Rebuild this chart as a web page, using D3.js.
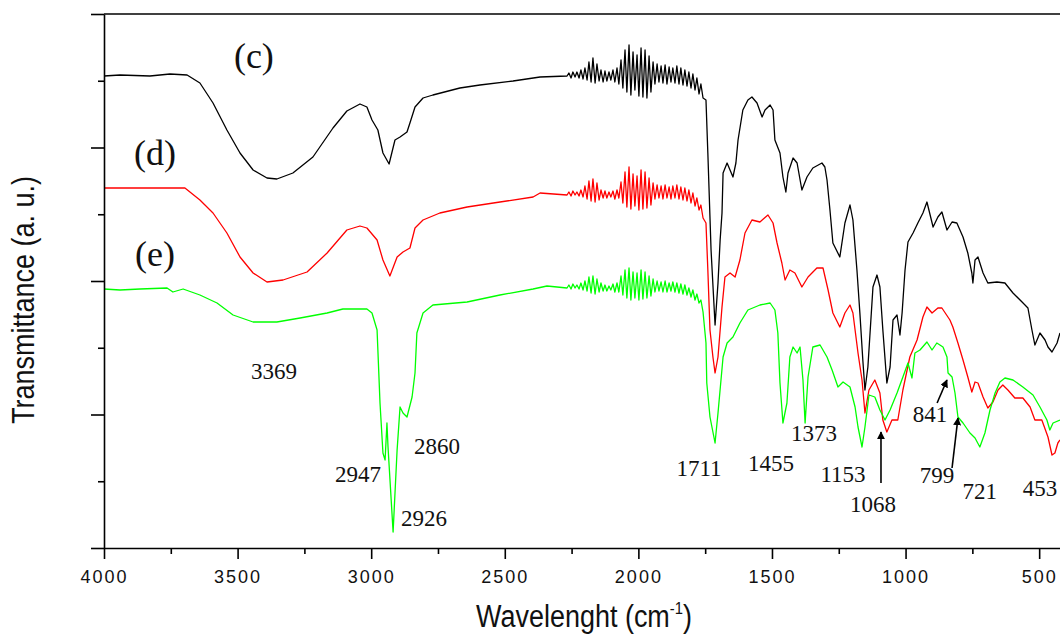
<!DOCTYPE html>
<html><head><meta charset="utf-8">
<script src="https://cdn.jsdelivr.net/npm/d3@7"></script>
<style>
html,body{margin:0;padding:0;background:#fff;}
svg{display:block;}
</style></head><body>
<svg id="chart" width="1060" height="635"></svg>
<script>
// ---------- DATA (wavenumber cm-1, transmittance a.u.) ----------
const xTicksMajor = [4000, 3500, 3000, 2500, 2000, 1500, 1000, 500];
const xTicksMinor = [3750, 3250, 2750, 2250, 1750, 1250, 750];
const yTicksMajor = [0, 133.5, 267, 400.5, 534];
const yTicksMinor = [66.75, 200.25, 333.75, 467.25];

// curve (c) black
const headC = [[4000,472],[3940,473],[3828,472],[3753,474],[3689,473],[3641,465],[3592,445],[3540,418],[3491,395],[3442,378],[3390,370],[3353,369],[3293,375],[3218,391],[3143,420],[3091,437],[3042,444],[3016,441],[2997,428],[2975,418],[2956,395],[2933,384],[2911,408],[2892,411],[2866,416],[2855,425],[2836,441],[2806,450],[2769,453],[2668,460],[2593,463],[2469,467],[2368,471]];
// noisy region (water vapour) shared wavenumbers
const noiseWave = [2267,2260,2252,2245,2237,2230,2222,2215,2207,2200,2192,2185,2177,2170,2162,2155,2147,2140,2132,2125,2118,2110,2103,2095,2088,2080,2073,2065,2058,2050,2043,2035,2028,2020,2013,2005,1998,1990,1983,1975,1968,1960,1953,1945,1938,1930,1923,1915,1908,1900,1893,1885,1878,1871,1863,1856,1848,1841,1833,1826,1818,1811,1803,1796,1788,1781,1773,1766,1758];
const noiseC = [472,475,470,476,471,476,470,478,469,480,468,486,466,490,465,484,467,478,466,477,467,476,468,478,466,480,464,488,460,498,456,503,453,496,458,493,452,500,451,498,450,492,456,486,464,484,466,482,465,483,464,481,466,480,465,482,464,480,463,478,462,476,460,474,458,470,454,464,450];
const tailC = [[1747,448],[1740,395],[1728,298],[1713,223],[1702,265],[1694,308],[1687,335],[1683,375],[1668,385],[1657,378],[1646,371],[1635,385],[1627,408],[1609,438],[1590,448],[1575,451],[1556,445],[1537,431],[1526,438],[1507,443],[1496,438],[1489,408],[1470,395],[1459,371],[1448,356],[1440,375],[1421,390],[1406,385],[1388,358],[1369,371],[1347,380],[1313,385],[1302,381],[1294,368],[1283,338],[1272,305],[1246,291],[1227,325],[1208,343],[1197,328],[1182,278],[1171,235],[1160,188],[1152,158],[1141,181],[1122,261],[1107,273],[1096,261],[1085,218],[1070,165],[1058,181],[1047,228],[1032,233],[1021,213],[1013,235],[1002,278],[991,306],[972,315],[954,325],[935,335],[920,346],[897,321],[879,331],[864,336],[845,318],[826,326],[808,325],[785,311],[767,295],[752,275],[748,265],[740,288],[729,291],[710,275],[692,265],[658,266],[628,265],[598,255],[564,246],[542,240],[527,218],[516,203],[497,215],[478,208],[467,201],[452,196],[433,205],[422,215]];

// curve (d) red
const headD = [[4000,360],[3828,360],[3697,360],[3641,348],[3592,335],[3540,315],[3491,291],[3442,275],[3390,266],[3330,268],[3240,276],[3165,295],[3091,318],[3042,322],[3016,320],[2978,308],[2956,288],[2930,272],[2903,291],[2881,296],[2855,300],[2836,320],[2806,328],[2743,335],[2641,341],[2518,346],[2394,351],[2368,355]];
const noiseD = [353,356,352,357,353,356,352,358,351,362,349,367,347,369,346,365,348,358,350,357,350,356,351,357,349,358,350,366,345,376,341,381,339,374,342,372,338,378,339,376,340,370,343,365,349,363,350,362,349,363,350,361,349,362,350,363,349,361,348,360,347,358,345,355,342,350,338,343,330];
const tailD = [[1747,325],[1740,278],[1732,218],[1721,191],[1713,175],[1702,191],[1687,241],[1676,271],[1657,275],[1638,271],[1620,288],[1601,315],[1575,328],[1545,326],[1515,333],[1496,325],[1481,305],[1463,285],[1451,268],[1433,278],[1414,275],[1388,261],[1365,271],[1332,280],[1309,280],[1290,258],[1272,235],[1246,221],[1227,235],[1208,243],[1197,235],[1178,195],[1163,168],[1152,135],[1137,158],[1115,168],[1096,155],[1085,128],[1070,116],[1051,128],[1029,128],[1010,158],[984,191],[957,208],[935,231],[920,241],[901,235],[879,240],[864,240],[834,228],[823,221],[804,205],[785,188],[767,171],[752,156],[740,166],[729,165],[710,151],[692,140],[673,146],[654,158],[636,163],[617,158],[591,150],[561,150],[534,141],[516,128],[490,128],[467,111],[452,93],[441,95],[430,105],[422,108]];

// curve (e) green
const headE = [[4000,259],[3940,258],[3865,259],[3764,260],[3742,256],[3704,259],[3641,253],[3577,245],[3517,233],[3442,226],[3353,226],[3266,230],[3165,235],[3106,239],[3016,239],[2997,235],[2978,218],[2967,145],[2956,95],[2948,88],[2941,125],[2937,101],[2918,16],[2903,98],[2892,141],[2881,135],[2866,131],[2847,151],[2836,175],[2829,215],[2806,235],[2769,243],[2641,246],[2518,253],[2394,259],[2342,262]];
const noiseE = [260,263,259,264,260,263,259,265,258,267,257,271,255,272,254,269,256,265,257,263,257,262,258,264,256,265,256,272,253,278,250,280,248,276,250,275,248,278,249,276,250,272,252,269,256,267,257,266,256,267,256,265,257,266,256,265,255,264,254,263,253,260,251,258,248,254,245,248,236];
const tailE = [[1747,205],[1744,165],[1732,131],[1713,105],[1702,135],[1683,191],[1668,205],[1646,211],[1620,225],[1590,238],[1545,243],[1507,245],[1489,238],[1478,215],[1470,165],[1459,125],[1444,145],[1433,191],[1421,201],[1406,195],[1395,201],[1384,168],[1376,125],[1365,171],[1347,201],[1320,203],[1294,191],[1275,178],[1253,161],[1234,166],[1208,161],[1189,141],[1178,121],[1163,101],[1152,121],[1137,153],[1115,151],[1096,138],[1077,128],[1058,138],[1032,155],[1010,171],[991,185],[976,170],[965,195],[946,198],[920,206],[901,198],[883,205],[860,201],[845,191],[841,175],[826,171],[815,155],[804,131],[785,125],[759,115],[740,110],[722,101],[703,115],[684,138],[665,155],[647,166],[628,170],[598,168],[561,161],[523,153],[497,141],[471,128],[460,118],[448,125],[422,128]];

// annotations
const seriesNames = ["(c)", "(d)", "(e)"];
const seriesNamePos = [[3439,480],[3809,383],[3809,282]];
const peakText = ["3369","2947","2926","2860","1711","1455","1373","1153","1068","841","799","721","453"];
const peakPos = [[3364,169],[3049,66],[2802,22],[2754,94],[1773,72],[1504,77],[1343,107],[1234,66],[1122,36],[909,126],[882,65],[722,49],[497,52]];
const arrows = [[[1092,65],[1092,116]],[[882,145],[845,168]],[[826,80],[804,130]]];

// ---------- CHART ----------
const svg = d3.select("#chart");
const L = 104, R = 1060, T = 14, B = 548;
const x = d3.scaleLinear().domain([4000, 422]).range([L, R]);
const y = d3.scaleLinear().domain([0, 534]).range([B, T]);

const build = (head, noise, tail) => head.concat(noiseWave.map((w, i) => [w, noise[i]]), tail);
const series = [
  {data: build(headC, noiseC, tailC), color: "#000000"},
  {data: build(headD, noiseD, tailD), color: "#ff0000"},
  {data: build(headE, noiseE, tailE), color: "#00ff00"}
];

svg.append("defs").append("clipPath").attr("id", "clip")
  .append("rect").attr("x", L).attr("y", T - 2).attr("width", R - L).attr("height", B - T + 4);
svg.select("defs").append("marker").attr("id", "arrow")
  .attr("viewBox", "0 0 10 10").attr("refX", 9).attr("refY", 5)
  .attr("markerWidth", 5).attr("markerHeight", 5).attr("orient", "auto")
  .append("path").attr("d", "M0,0L10,5L0,10Z").attr("fill", "#000");

const line = d3.line().x(d => x(d[0])).y(d => y(d[1]));
const g = svg.append("g").attr("clip-path", "url(#clip)");
series.forEach(s => {
  g.append("path").attr("d", line(s.data)).attr("fill", "none")
    .attr("stroke", s.color).attr("stroke-width", 1.3).attr("stroke-linejoin", "round");
});

// axes
const axisStyle = sel => {
  sel.selectAll("path,line").attr("stroke", "#000").attr("stroke-width", 1.6);
};
const xAxis = svg.append("g").attr("transform", `translate(0,${B})`)
  .call(d3.axisBottom(x).tickValues(xTicksMajor).tickSize(11).tickSizeOuter(0).tickFormat(d3.format("d")));
xAxis.call(axisStyle);
xAxis.selectAll("text").attr("y", 35).attr("dy", 0)
  .attr("font-family", "'Liberation Sans', Arial, sans-serif").attr("font-size", 18)
  .attr("letter-spacing", "2px").attr("fill", "#111");
svg.append("g").attr("transform", `translate(0,${B})`)
  .call(d3.axisBottom(x).tickValues(xTicksMinor).tickSize(6).tickSizeOuter(0).tickFormat(""))
  .call(axisStyle).select(".domain").remove();

svg.append("g").attr("transform", `translate(${L},0)`)
  .call(d3.axisLeft(y).tickValues(yTicksMajor).tickSize(13).tickSizeOuter(0).tickFormat(""))
  .call(axisStyle);
svg.append("g").attr("transform", `translate(${L},0)`)
  .call(d3.axisLeft(y).tickValues(yTicksMinor).tickSize(6).tickSizeOuter(0).tickFormat(""))
  .call(axisStyle).select(".domain").remove();
// top frame
svg.append("line").attr("x1", L).attr("x2", R).attr("y1", y(534)).attr("y2", y(534))
  .attr("stroke", "#000").attr("stroke-width", 1.6);

// titles (condensed sans)
const sans = "'Liberation Sans', Arial, sans-serif";
const xt = svg.append("text").attr("transform", "translate(584,627) scale(0.87,1)").attr("text-anchor", "middle")
  .attr("font-family", sans).attr("font-size", 31).attr("fill", "#111");
xt.append("tspan").text("Wavelenght (cm");
xt.append("tspan").attr("font-size", 17).attr("dy", -13).text("-1");
xt.append("tspan").attr("dy", 13).text(")");
svg.append("text").attr("transform", "translate(34,300) rotate(-90) scale(0.87,1)").attr("text-anchor", "middle")
  .attr("font-family", sans).attr("font-size", 31).attr("fill", "#111")
  .text("Transmittance (a. u.)");

// series names
const serif = "'Liberation Serif', 'Times New Roman', serif";
svg.append("g").selectAll("text").data(seriesNames).join("text")
  .attr("x", (d, i) => x(seriesNamePos[i][0])).attr("y", (d, i) => y(seriesNamePos[i][1]))
  .attr("text-anchor", "middle").attr("font-family", serif).attr("font-size", 36).attr("fill", "#111")
  .text(d => d);

// peak labels
svg.append("g").selectAll("text").data(peakText).join("text")
  .attr("x", (d, i) => x(peakPos[i][0])).attr("y", (d, i) => y(peakPos[i][1]))
  .attr("text-anchor", "middle").attr("font-family", serif).attr("font-size", 23).attr("fill", "#111")
  .text(d => d);

// arrows
svg.append("g").selectAll("line").data(arrows).join("line")
  .attr("x1", d => x(d[0][0])).attr("y1", d => y(d[0][1]))
  .attr("x2", d => x(d[1][0])).attr("y2", d => y(d[1][1]))
  .attr("stroke", "#000").attr("stroke-width", 1.6).attr("marker-end", "url(#arrow)");
</script>
</body></html>
